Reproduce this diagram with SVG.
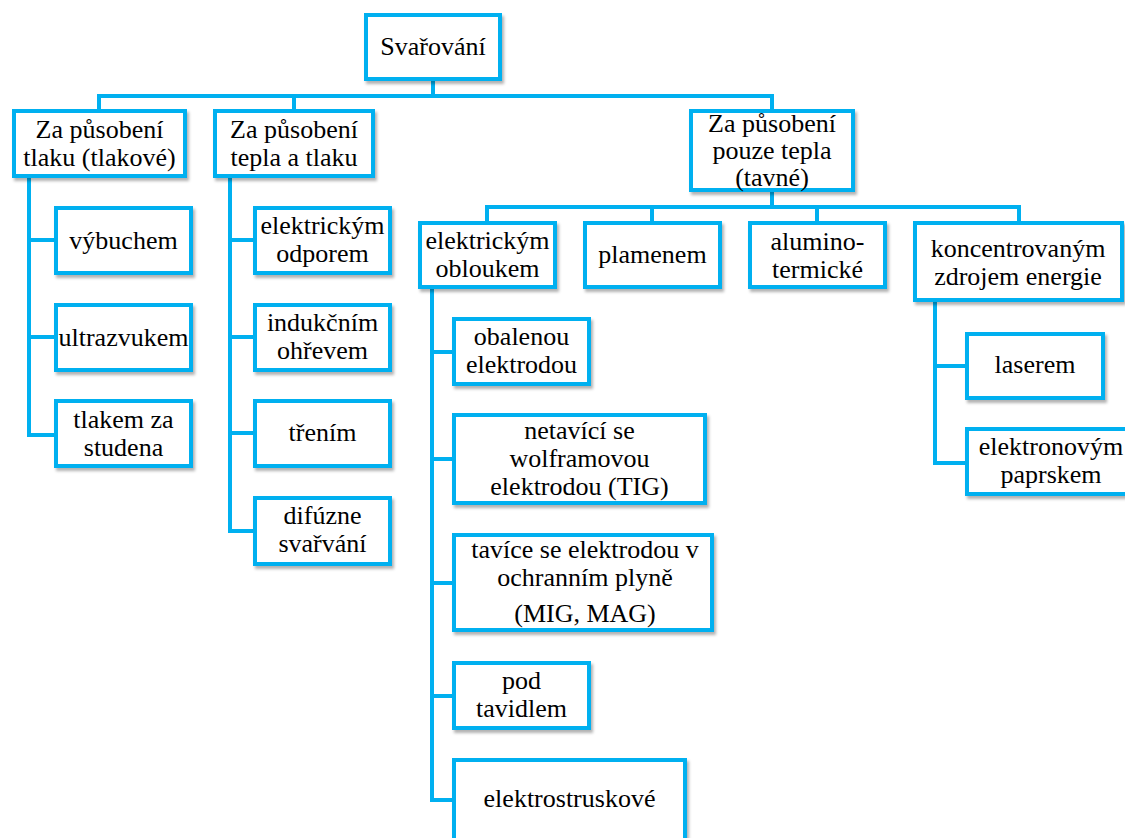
<svg xmlns="http://www.w3.org/2000/svg" width="1125" height="838" viewBox="0 0 1125 838">
<defs>
<filter id="sh" x="-10%" y="-10%" width="130%" height="130%">
<feDropShadow dx="2" dy="3" stdDeviation="1.5" flood-color="#000" flood-opacity="0.3"/>
</filter>
<style>
.box{fill:#fff;stroke:#00B0F0;stroke-width:4;filter:url(#sh)}
.t{font-size:26px;fill:#000;text-anchor:middle}
.c{fill:none;stroke:#00B0F0;stroke-width:4}
</style>
</defs>
<rect width="1125" height="838" fill="#fff"/>
<g id="connectors">
<path class="c" d="M433 81V96M99 109V96H772V109M294 96V109"/>
<path class="c" d="M29 178V435H54M29 240H54M29 337H54"/>
<path class="c" d="M230 178V531H253M230 240H253M230 337H253M230 433H253"/>
<path class="c" d="M772 192V207M487 221V207H1019V221M652 207V221M817 207V221"/>
<path class="c" d="M432 289V800H452M432 352H452M432 459H452M432 583H452M432 696H452"/>
<path class="c" d="M935 302V463H965M935 366H965"/>
</g>
<g font-family="Liberation Serif, Tinos, Times New Roman, DejaVu Serif, serif">
<g id="root"><rect class="box" x="366" y="15" width="134" height="64"/><text class="t" x="433" y="55">Svařování</text></g>
<g id="tlak"><rect class="box" x="14" y="111" width="171" height="65"/><text class="t" x="99.5" y="138">Za působení</text><text class="t" x="99.5" y="166">tlaku (tlakové)</text></g>
<g id="teplo-tlak"><rect class="box" x="215" y="111" width="158" height="65"/><text class="t" x="294" y="138">Za působení</text><text class="t" x="294" y="166">tepla a tlaku</text></g>
<g id="teplo"><rect class="box" x="691" y="111" width="162" height="79"/><text class="t" x="772" y="132">Za působení</text><text class="t" x="772" y="159">pouze tepla</text><text class="t" x="772" y="186">(tavné)</text></g>
<g id="vybuchem"><rect class="box" x="56" y="208" width="135" height="65"/><text class="t" x="123.5" y="249">výbuchem</text></g>
<g id="ultrazvukem"><rect class="box" x="56" y="305" width="135" height="65"/><text class="t" x="123.5" y="346">ultrazvukem</text></g>
<g id="tlakem"><rect class="box" x="56" y="401" width="135" height="65"/><text class="t" x="123.5" y="428">tlakem za</text><text class="t" x="123.5" y="456">studena</text></g>
<g id="odporem"><rect class="box" x="255" y="208" width="135" height="65"/><text class="t" x="322.5" y="234">elektrickým</text><text class="t" x="322.5" y="262">odporem</text></g>
<g id="indukcnim"><rect class="box" x="255" y="305" width="135" height="65"/><text class="t" x="322.5" y="331">indukčním</text><text class="t" x="322.5" y="359">ohřevem</text></g>
<g id="trenim"><rect class="box" x="255" y="401" width="135" height="65"/><text class="t" x="322.5" y="441">třením</text></g>
<g id="difuzne"><rect class="box" x="255" y="498" width="135" height="66"/><text class="t" x="322.5" y="524">difúzne</text><text class="t" x="322.5" y="552">svařvání</text></g>
<g id="obloukem"><rect class="box" x="420" y="223" width="135" height="64"/><text class="t" x="487.5" y="249">elektrickým</text><text class="t" x="487.5" y="277">obloukem</text></g>
<g id="plamenem"><rect class="box" x="585" y="223" width="135" height="64"/><text class="t" x="652.5" y="263">plamenem</text></g>
<g id="alumino"><rect class="box" x="750" y="223" width="135" height="64"/><text class="t" x="817.5" y="250">alumino-</text><text class="t" x="817.5" y="278">termické</text></g>
<g id="koncentrovanym"><rect class="box" x="915" y="223" width="207" height="77"/><text class="t" x="1018" y="257">koncentrovaným</text><text class="t" x="1018" y="285">zdrojem energie</text></g>
<g id="obalenou"><rect class="box" x="454" y="319" width="135" height="65"/><text class="t" x="521.5" y="345">obalenou</text><text class="t" x="521.5" y="373">elektrodou</text></g>
<g id="tig"><rect class="box" x="454" y="415" width="251" height="88"/><text class="t" x="579.5" y="439">netavící se</text><text class="t" x="579.5" y="467">wolframovou</text><text class="t" x="579.5" y="495">elektrodou (TIG)</text></g>
<g id="mig"><rect class="box" x="454" y="535" width="258" height="95"/><text class="t" x="585" y="558">tavíce se elektrodou v</text><text class="t" x="585" y="586">ochranním plyně</text><text class="t" x="585" y="622">(MIG, MAG)</text></g>
<g id="tavidlem"><rect class="box" x="454" y="663" width="135" height="65"/><text class="t" x="521.5" y="689">pod</text><text class="t" x="521.5" y="717">tavidlem</text></g>
<g id="elektrostruskove"><rect class="box" x="454" y="760" width="231" height="100"/><text class="t" x="569.5" y="807">elektrostruskové</text></g>
<g id="laserem"><rect class="box" x="967" y="334" width="136" height="64"/><text class="t" x="1035" y="373">laserem</text></g>
<g id="elektronovym"><rect class="box" x="967" y="429" width="170" height="65"/><text class="t" x="1051" y="455">elektronovým</text><text class="t" x="1051" y="483">paprskem</text></g>
</g>
</svg>
